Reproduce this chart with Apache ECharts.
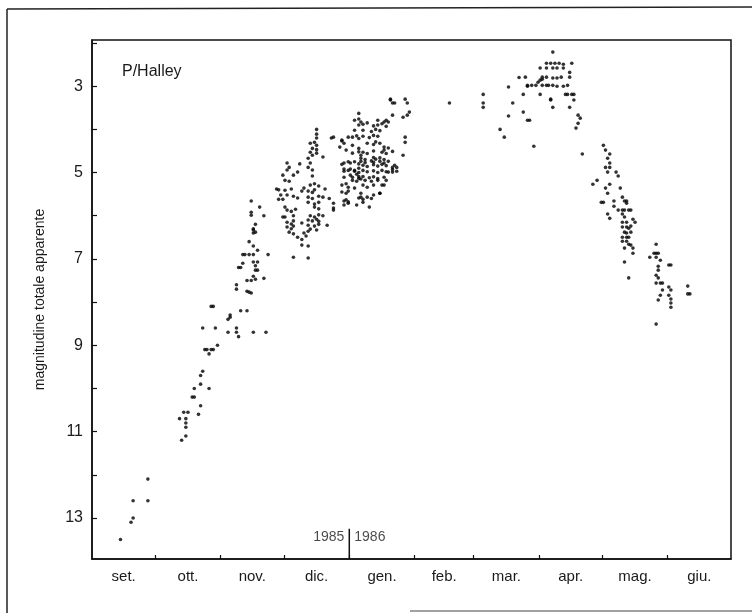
<!DOCTYPE html>
<html>
<head>
<meta charset="utf-8">
<script src="https://cdn.jsdelivr.net/npm/echarts@6/dist/echarts.min.js"></script>
<style>html,body{margin:0;padding:0;background:#fff;}#c{width:752px;height:613px;}</style>
</head>
<body>
<div id="c"></div>
<script>
// Month names (x axis) and day offsets of each month start, counted from 1 Sept 1985
const monthNames = ['set.', 'ott.', 'nov.', 'dic.', 'gen.', 'feb.', 'mar.', 'apr.', 'mag.', 'giu.'];
const monthStart = [0, 30, 61, 91, 122, 153, 181, 212, 242, 273, 303];
const magTicks = [2, 3, 4, 5, 6, 7, 8, 9, 10, 11, 12, 13, 14];
const magLabels = [3, 5, 7, 9, 11, 13];
const yearSplit = { day: 122, left: '1985', right: '1986' };

// Observations: [day of month, apparent total magnitude]
const sep85 = [[14,13.5],[19,13.1],[20,13.0],[20,12.6],[27,12.1],[27,12.6]];
const oct85 = [[13,11.2],[15,11.1],[12,10.7],[14,10.55],[15,10.7],[15,10.8],[15,10.9],[16,10.55],[18,10.2],[19,10.2],[19,10.0],
  [21,10.6],[22,10.4],[22,9.9],[22,9.7],[23,9.6],[23,8.6],[24,9.1],[25,9.1],[26,9.2],[26,10.0],[27,9.1],[27,8.1],[28,8.1],
  [28,9.1],[29,8.6],[30,9.0]];
const nov85 = [[4,8.7],[4,8.4],[5,8.35],[5,8.3],[8,8.7],[8,7.7],[8,7.6],[8,8.6],[9,8.8],[9,7.2],[10,8.2],[10,7.2],[11,7.1],
  [11,6.9],[12,6.9],[13,8.2],[13,7.5],[13,7.75],[14,6.9],[14,6.6],[14,7.77],[15,7.79],[15,7.5],[15,5.66],[15,5.92],[15,5.99],
  [16,8.7],[16,6.9],[16,6.3],[16,6.33],[16,6.4],[16,7.4],[16,7.07],[16,6.7],[17,7.47],[17,7.26],[17,6.38],[17,6.2],[17,7.16],
  [18,6.8],[18,7.26],[18,7.07],[19,5.8],[21,7.45],[21,6.0],[23,6.9],[28,5.4],[30,5.06],[27,5.38],[29,5.52],[28,5.62],[30,5.62],
  [30,6.03],[22,8.7]];
const dec85 = [[2,4.78],[3,4.88],[2,4.94],[1,5.18],[1,5.41],[4,5.38],[9,5.43],[10,5.36],[2,5.52],[5,5.55],[7,5.59],[1,5.8],
  [2,5.87],[4,5.9],[1,6.03],[5,6.0],[2,6.15],[4,6.19],[5,6.12],[9,6.17],[2,6.26],[4,6.3],[5,6.24],[3,6.38],[5,6.42],[7,6.5],
  [9,6.55],[11,6.47],[10,6.4],[12,6.36],[9,6.68],[12,6.7],[5,6.96],[12,6.98],[8,4.8],[7,4.99],[5,5.06],
  [16,4.0],[16,4.11],[16,4.2],[13,4.32],[15,4.3],[16,4.37],[14,4.44],[16,4.47],[13,4.53],[16,4.55],[14,4.6],[19,4.64],
  [12,4.67],[13,4.78],[12,4.88],[14,4.94],[14,5.08],[13,5.29],[15,5.26],[17,5.31],[20,5.38],[12,5.43],[14,5.46],[15,5.4],
  [12,5.57],[14,5.6],[17,5.55],[19,5.57],[22,5.6],[12,5.69],[15,5.73],[17,5.69],[24,5.71],[15,5.8],[17,5.84],[24,5.87],
  [13,6.0],[15,6.03],[17,5.98],[19,6.0],[12,6.1],[14,6.12],[16,6.08],[17,6.13],[12,6.22],[15,6.24],[17,6.2],[21,6.22],[13,6.31],
  [16,6.33],[23,4.2],[27,4.41],[28,4.27],[29,4.32],[28,5.29],[30,5.26],[28,5.45],[30,5.48],[31,5.43],[29,5.66],[30,5.63],
  [31,5.68],[29,4.78],[31,4.75],[29,4.92],[31,4.95],[30,4.48],[28,4.25],[24,4.18],[29,5.75],[31,5.71],[24,5.82],[28,4.81],
  [29,4.97],[29,5.11],[31,4.18],[31,5.34],[3,5.2],[6,5.85]];
const jan86 = [[3,3.79],[5,3.76],[5,3.9],[3,4.02],[5,3.63],[6,3.83],[2,4.18],[4,4.15],[5,4.21],[2,4.37],[5,4.44],[2,4.55],
  [5,4.52],[6,4.6],[1,4.78],[3,4.75],[5,4.8],[1,4.92],[3,4.95],[5,4.9],[1,5.06],[4,5.04],[5,5.09],[2,5.18],[4,5.2],[6,5.15],
  [6,5.57],[7,3.88],[9,3.85],[12,3.92],[14,3.9],[16,3.87],[18,3.93],[7,4.02],[11,4.05],[13,4.0],[15,4.03],[18,3.79],[19,3.83],
  [7,4.16],[10,4.19],[12,4.14],[14,4.16],[9,4.32],[12,4.35],[13,4.29],[15,4.32],[17,4.41],[19,4.43],[17,4.48],[7,4.53],
  [9,4.56],[12,4.5],[16,4.53],[18,4.56],[21,4.51],[6,4.67],[8,4.7],[12,4.65],[13,4.69],[15,4.66],[17,4.7],[6,4.74],
  [8,4.77],[11,4.73],[12,4.76],[15,4.74],[17,4.78],[19,4.74],[7,4.83],[9,4.86],[12,4.82],[14,4.85],[16,4.81],[18,4.84],
  [21,4.88],[22,4.83],[3,4.97],[5,5.0],[7,4.95],[9,4.98],[12,4.96],[14,5.0],[16,4.95],[18,4.98],[21,4.93],[23,4.97],
  [2,5.11],[5,5.14],[7,5.09],[10,5.12],[12,5.1],[14,5.14],[17,5.11],[8,5.18],[11,5.2],[14,5.18],[16,5.29],[3,5.36],
  [7,5.29],[9,5.34],[12,5.29],[6,5.48],[12,5.52],[15,5.48],[5,5.59],[7,5.62],[9,5.57],[11,5.6],[7,5.69],[20,3.32],[21,3.39],
  [22,3.39],[28,3.39],[29,3.6],[28,3.67],[26,3.72],[21,3.67],[27,3.3],[20,3.3],[27,4.18],[27,4.3],[26,4.6],[23,4.88],
  [21,4.99],[19,4.99],[18,5.18],[17,5.29],[15,5.48],[14,3.79],[17,3.83],[4,5.75],[10,5.8]];
const feb86 = [[17,3.39]];
const mar86 = [[5,3.19],[5,3.39],[5,3.49],[13,4.0],[15,4.18],[17,3.02],[17,3.69],[19,3.39],[24,3.19],[24,3.6],[25,2.79],
  [26,3.0],[26,3.79],[27,3.79],[29,4.39],[26,2.98],[28,2.98],[30,2.98],[31,2.91],[22,2.8]];
const apr86 = [[1,2.86],[1,2.58],[1,3.19],[2,2.79],[4,2.79],[7,2.81],[9,2.81],[11,2.79],[2,2.84],[2,2.98],[4,2.98],[5,2.98],
  [7,2.98],[9,3.0],[12,3.0],[14,2.98],[7,2.21],[4,2.47],[6,2.47],[8,2.47],[10,2.47],[12,2.49],[4,2.58],[7,2.58],[9,2.58],
  [12,2.58],[16,2.47],[15,2.68],[15,2.79],[6,3.3],[6,3.32],[7,3.49],[13,3.19],[14,3.19],[16,3.19],[17,3.19],[15,3.49],
  [17,3.32],[19,3.67],[20,3.74],[19,3.86],[18,3.97],[21,4.57],[28,5.18],[26,5.27],[30,5.69]];
const may86 = [[1,4.37],[2,4.48],[4,4.57],[3,4.67],[4,4.78],[2,4.88],[4,4.88],[3,4.99],[7,4.99],[8,5.08],[4,5.27],[2,5.36],
  [3,5.48],[9,5.36],[1,5.69],[6,5.66],[10,5.57],[11,5.66],[12,5.66],[12,5.71],[6,5.78],[8,5.87],[10,5.87],[11,5.87],
  [13,5.87],[14,5.87],[10,5.96],[11,6.03],[3,5.96],[4,6.06],[10,6.15],[12,6.15],[15,6.08],[16,6.15],[10,6.26],[12,6.26],
  [13,6.29],[14,6.24],[11,6.38],[12,6.4],[14,6.38],[10,6.5],[12,6.5],[13,6.5],[10,6.59],[12,6.59],[13,6.66],[14,6.68],
  [11,6.75],[15,6.75],[15,6.87],[11,7.07],[13,7.44],[26,6.66],[25,6.87],[26,6.87],[27,6.87],[23,6.96],[26,6.96],[28,7.03],
  [27,7.17],[27,7.26],[26,7.38],[27,7.44],[26,7.56],[28,7.56],[29,7.56],[29,7.72],[28,7.84],[27,7.95],[26,8.51]];
const jun86 = [[1,7.14],[2,7.14],[1,7.65],[2,7.72],[1,7.84],[2,7.93],[2,8.02],[2,8.12],[10,7.63],[10,7.81],[11,7.81]];

const months = [sep85, oct85, nov85, dec85, jan86, feb86, mar86, apr86, may86, jun86];
const points = [];
months.forEach((arr, m) => arr.forEach(([d, v]) => points.push([monthStart[m] + d - 0.5, v])));
const labelDays = monthNames.map((_, i) => (monthStart[i] + monthStart[i + 1]) / 2);

const FONT = '"Liberation Sans", Arial, Helvetica, sans-serif';
const chart = echarts.init(document.getElementById('c'));
chart.setOption({
  animation: false,
  backgroundColor: '#fff',
  grid: { left: 92, right: 21, top: 40, bottom: 54, show: true, borderColor: '#111', borderWidth: 1.5, backgroundColor: 'transparent' },
  xAxis: {
    type: 'value', min: 0, max: monthStart[monthStart.length - 1],
    axisLine: { show: true, lineStyle: { color: '#111', width: 1.5 } },
    axisTick: { show: true, inside: true, length: 4, lineStyle: { color: '#111', width: 1.2 }, customValues: monthStart.slice(1, -1) },
    axisLabel: {
      customValues: labelDays, margin: 10, color: '#1a1a1a', fontSize: 15, fontFamily: FONT,
      formatter: v => { const i = labelDays.findIndex(x => Math.abs(x - v) < 0.01); return i >= 0 ? monthNames[i] : ''; }
    },
    splitLine: { show: false }
  },
  yAxis: {
    type: 'value', inverse: true, min: 1.93, max: 13.95,
    name: 'magnitudine totale apparente', nameLocation: 'middle', nameGap: 45, nameRotate: 90,
    nameTextStyle: { color: '#1a1a1a', fontSize: 14, fontFamily: FONT },
    axisLine: { show: true, lineStyle: { color: '#111', width: 1.5 } },
    axisTick: { show: true, inside: true, length: 5, lineStyle: { color: '#111', width: 1.2 }, customValues: magTicks },
    axisLabel: { customValues: magLabels, margin: 9, color: '#1a1a1a', fontSize: 16, fontFamily: FONT },
    splitLine: { show: false }
  },
  series: [
    { type: 'scatter', data: points, symbol: 'circle', symbolSize: 3.6, itemStyle: { color: '#000' }, silent: true },
    { type: 'line', data: [[yearSplit.day, 13.25], [yearSplit.day, 13.95]], symbol: 'none', lineStyle: { color: '#111', width: 1.5 }, silent: true },
    { type: 'scatter', data: [[yearSplit.day, 13.45]], symbolSize: 0, silent: true,
      label: { show: true, position: 'left', distance: 5, formatter: yearSplit.left, color: '#1a1a1a', fontSize: 14, fontFamily: FONT } },
    { type: 'scatter', data: [[yearSplit.day, 13.45]], symbolSize: 0, silent: true,
      label: { show: true, position: 'right', distance: 5, formatter: yearSplit.right, color: '#1a1a1a', fontSize: 14, fontFamily: FONT } }
  ],
  graphic: [
    { type: 'text', left: 122, top: 64, style: { text: 'P/Halley', fontSize: 16, fontFamily: FONT, fill: '#1a1a1a' } },
    { type: 'line', shape: { x1: 7, y1: 9, x2: 752, y2: 7 }, style: { stroke: '#222', lineWidth: 1.5 } },
    { type: 'line', shape: { x1: 7, y1: 9, x2: 7, y2: 613 }, style: { stroke: '#222', lineWidth: 1.5 } },
    { type: 'line', shape: { x1: 410, y1: 611, x2: 752, y2: 611 }, style: { stroke: '#444', lineWidth: 1 } }
  ]
});
</script>
</body>
</html>
